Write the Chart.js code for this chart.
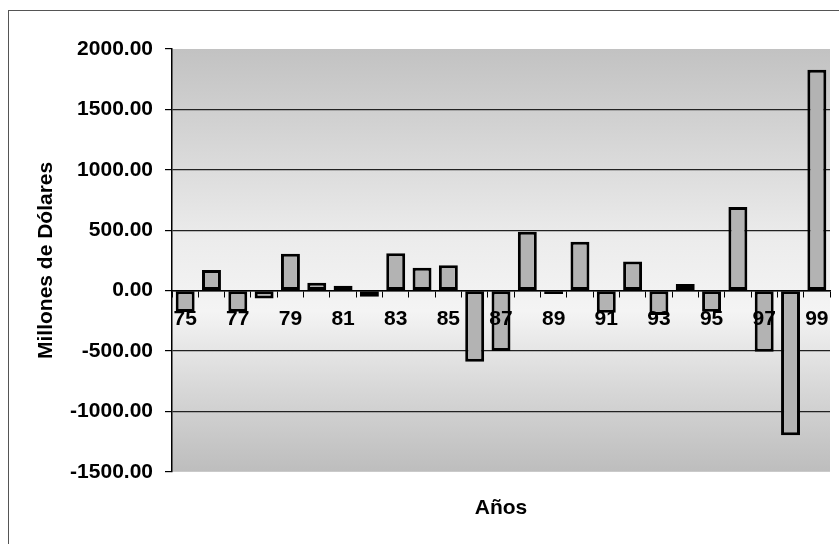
<!DOCTYPE html>
<html>
<head>
<meta charset="utf-8">
<style>
  html, body { margin: 0; padding: 0; background: #fff; }
  canvas { display: block; }
</style>
<script src="https://cdn.jsdelivr.net/npm/chart.js@4/dist/chart.umd.min.js"></script>
</head>
<body>
<canvas id="chart" width="839" height="544"></canvas>
<script>
// Años (dos dígitos) y saldo anual en millones de dólares
const years = ['75','76','77','78','79','80','81','82','83','84','85','86','87',
               '88','89','90','91','92','93','94','95','96','97','98','99'];
const saldo = [-178, 170, -176, -65, 305, 65, 40, -50, 310, 190, 210, -590, -500,
               488, -28, 405, -184, 240, -203, 54, -176, 692, -507, -1198, 1828];
const yTicks = [-1500, -1000, -500, 0, 500, 1000, 1500, 2000];

const FONT = "'Liberation Sans', Arial, sans-serif";

// Fondo blanco, marco exterior y relleno degradado del área de trazado
const backdrop = {
  id: 'backdrop',
  beforeDraw(chart) {
    const { ctx, chartArea: a, width, height } = chart;
    ctx.save();
    ctx.fillStyle = '#fff';
    ctx.fillRect(0, 0, width, height);
    ctx.strokeStyle = '#555';
    ctx.lineWidth = 1;
    ctx.strokeRect(8.5, 10.5, width + 10, height + 10);
    const g = ctx.createLinearGradient(0, a.top, 0, a.bottom);
    g.addColorStop(0.00, '#c2c2c2');
    g.addColorStop(0.20, '#d4d4d4');
    g.addColorStop(0.45, '#ececec');
    g.addColorStop(0.62, '#f4f4f4');
    g.addColorStop(0.80, '#d8d8d8');
    g.addColorStop(1.00, '#bdbdbd');
    ctx.fillStyle = g;
    ctx.fillRect(a.left, a.top, a.right - a.left, a.bottom - a.top);
    ctx.restore();
  }
};

new Chart(document.getElementById('chart'), {
  type: 'bar',
  data: {
    labels: years,
    datasets: [{
      data: saldo,
      backgroundColor: '#b3b3b3',
      borderColor: '#000',
      borderWidth: 3,
      borderSkipped: false,
      barPercentage: 0.72,
      categoryPercentage: 1.0
    }]
  },
  options: {
    responsive: false,
    animation: false,
    events: [],
    layout: { padding: { left: 24, right: 9, top: 49, bottom: 0 } },
    plugins: {
      legend: { display: false },
      tooltip: { enabled: false },
      title: {
        display: true,
        text: 'Años',
        position: 'bottom',
        fullSize: false,
        color: '#000',
        font: { family: FONT, size: 21, weight: 'bold' },
        padding: { top: 23.5, bottom: 23.5 }
      }
    },
    scales: {
      x: {
        type: 'category',
        position: { y: 0 },
        offset: true,
        grid: {
          display: true,
          offset: true,
          drawOnChartArea: false,
          drawTicks: true,
          tickLength: 6,
          color: '#000'
        },
        border: { display: true, color: '#000', width: 1.5 },
        ticks: {
          z: 1,
          autoSkip: false,
          maxRotation: 0,
          padding: 10,
          color: '#000',
          font: { family: FONT, size: 21, weight: 'bold' },
          callback(value, index) {
            return index % 2 === 0 ? this.getLabelForValue(value) : '';
          }
        }
      },
      y: {
        min: yTicks[0],
        max: yTicks[yTicks.length - 1],
        afterBuildTicks(scale) {
          scale.ticks = yTicks.map(v => ({ value: v }));
        },
        afterFit(scale) { scale.width = 148; },
        grid: {
          tickLength: 7,
          lineWidth: 1.2,
          color(ctx) {
            const v = ctx.tick && ctx.tick.value;
            return (v === yTicks[0] || v === yTicks[yTicks.length - 1]) ? 'rgba(0,0,0,0)' : '#222';
          },
          tickColor: '#000'
        },
        border: { display: true, color: '#000', width: 1.5 },
        ticks: {
          padding: 12,
          color: '#000',
          font: { family: FONT, size: 21, weight: 'bold' },
          callback: v => Number(v).toFixed(2)
        },
        title: {
          display: true,
          text: 'Millones de Dólares',
          color: '#000',
          font: { family: FONT, size: 21, weight: 'bold' },
          padding: { top: 10, bottom: 0 }
        }
      }
    }
  },
  plugins: [backdrop]
});
</script>
</body>
</html>
